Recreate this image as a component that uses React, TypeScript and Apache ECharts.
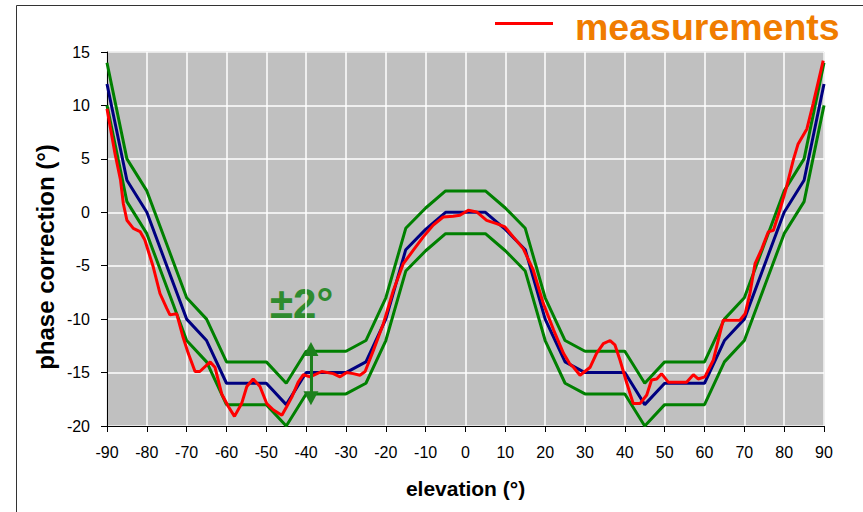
import React, { useEffect, useRef } from "react";
import * as echarts from "echarts";

// Model (blue) curve: elevation (°) and phase correction (°)
const modelElev = [-90, -85, -80, -75, -70, -65, -60, -50, -45, -40, -30, -25, -20, -15, -10, -5, 0, 5, 10, 15, 20, 25, 30, 40, 45, 50, 60, 65, 70, 75, 80, 85, 90];
const modelPhase = [12, 3, 0, -5, -10, -12, -16, -16, -18, -15, -15, -14, -10, -3.5, -1.6, 0, 0, 0, -1.6, -3.5, -10, -14, -15, -15, -18, -16, -16, -12, -10, -5, 0, 3, 12];
// Tolerance band (green)
const upperBound = [14, 5, 2, -3, -8, -10, -14, -14, -16, -13, -13, -12, -8, -1.5, 0.4, 2, 2, 2, 0.4, -1.5, -8, -12, -13, -13, -16, -14, -14, -10, -8, -3, 2, 5, 14];
const lowerBound = [10, 1, -2, -7, -12, -14, -18, -18, -20, -17, -17, -16, -12, -5.5, -3.6, -2, -2, -2, -3.6, -5.5, -12, -16, -17, -17, -20, -18, -18, -14, -12, -7, -2, 1, 10];

// Measurements (red)
const measElev = [-90, -89.2, -88, -86.6, -85.9, -85, -83.4, -81.7, -80.5, -78.4, -76.7, -75, -74.2, -72.5, -70.9, -69.6, -67.9, -66.7, -64.1, -62.9, -61.2, -59.5, -58, -56.2, -54.9, -53.3, -51.6, -49.9, -48.2, -46.1, -44.9, -43.6, -42, -40.7, -39, -36.1, -33.2, -31.5, -29.8, -28.2, -26.5, -25.2, -23.1, -20.6, -18.1, -15.6, -13.1, -10.6, -8.1, -5.6, -3.1, -1.4, 0.7, 2.8, 5.3, 7.8, 9.9, 12, 14.5, 17, 19.5, 22.1, 24.6, 26.2, 27.1, 28.75, 31.3, 32.9, 34.6, 36.3, 37.5, 38.8, 40.5, 42.1, 43.8, 45.5, 46.7, 48, 49.2, 50.9, 53, 55.5, 57.2, 58.4, 60.1, 62.2, 64.7, 68.9, 70.2, 71.4, 72.7, 74.4, 76, 77.3, 78.9, 80.6, 82.3, 83.5, 85.7, 87.3, 89.8];
const measPhase = [9.7, 8.0, 5.5, 3.0, 0.8, -0.75, -1.5, -1.8, -2.6, -5.1, -7.6, -9.0, -9.6, -9.5, -11.7, -13.2, -14.9, -14.9, -14.0, -14.5, -17.0, -18.2, -19.1, -17.9, -16.3, -15.6, -16.3, -17.9, -18.5, -19.0, -18.2, -17.3, -15.9, -15.2, -15.4, -14.9, -15.1, -15.4, -15.0, -15.1, -15.25, -14.9, -12.9, -10.4, -7.3, -4.8, -3.55, -2.3, -1.2, -0.44, -0.37, -0.28, 0.19, 0.03, -0.75, -1.06, -1.37, -2.3, -3.4, -5.4, -8.5, -11.0, -13.2, -14.2, -14.5, -15.25, -14.5, -13.2, -12.3, -12.0, -12.4, -13.85, -16.0, -17.9, -17.9, -17.1, -15.7, -15.6, -15.1, -15.9, -15.9, -15.9, -15.2, -15.6, -15.4, -13.85, -10.1, -10.1, -9.5, -7.6, -4.8, -3.4, -1.84, -1.68, 0.19, 2.37, 4.9, 6.4, 7.8, 10.2, 14.2];

// ±2° arrow annotation (elevation, top, bottom)
const arrowElev = -38.8;
const arrowTop = -12.8;
const arrowBottom = -17.4;

const pair = (xs: number[], ys: number[]) => xs.map((x, i) => [x, ys[i]]);

export default function App() {
  const ref = useRef<HTMLDivElement>(null);
  useEffect(() => {
    const chart = echarts.init(ref.current!, null, { renderer: "svg" });
    const font = "'Liberation Sans', Arial, sans-serif";
    chart.setOption({
      animation: false,
      backgroundColor: "#ffffff",
      textStyle: { fontFamily: font },
      grid: {
        left: 107,
        right: 39,
        top: 52,
        bottom: 86,
        show: true,
        backgroundColor: "#c0c0c0",
        borderColor: "#808080",
        borderWidth: 1,
      },
      xAxis: {
        type: "value",
        min: -90,
        max: 90,
        interval: 10,
        name: "elevation (°)",
        nameLocation: "middle",
        nameGap: 52,
        nameTextStyle: { fontSize: 21, fontWeight: "bold", color: "#000", fontFamily: font },
        axisLine: { show: true, onZero: false, lineStyle: { color: "#000", width: 1 } },
        axisTick: { show: true, length: 6, lineStyle: { color: "#000" } },
        axisLabel: { color: "#000", fontSize: 16, margin: 18, fontFamily: font },
        splitLine: { show: true, lineStyle: { color: "#ffffff", width: 1.5 } },
      },
      yAxis: {
        type: "value",
        min: -20,
        max: 15,
        interval: 5,
        axisLine: { show: true, onZero: false, lineStyle: { color: "#000", width: 1 } },
        axisTick: { show: true, length: 6, lineStyle: { color: "#000" } },
        axisLabel: { color: "#000", fontSize: 16, margin: 17, fontFamily: font },
        splitLine: { show: true, lineStyle: { color: "#ffffff", width: 1.5 } },
      },
      series: [
        {
          name: "upper",
          type: "line",
          data: pair(modelElev, upperBound),
          showSymbol: false,
          silent: true,
          lineStyle: { color: "#008000", width: 3 },
          markLine: {
            silent: true,
            symbol: ["triangle", "triangle"],
            symbolSize: [15, 14],
            label: { show: false },
            lineStyle: { color: "#1c801c", width: 3, type: "solid" },
            data: [[{ coord: [arrowElev, arrowTop] }, { coord: [arrowElev, arrowBottom] }]],
          },
        },
        {
          name: "lower",
          type: "line",
          data: pair(modelElev, lowerBound),
          showSymbol: false,
          silent: true,
          lineStyle: { color: "#008000", width: 3 },
        },
        {
          name: "model",
          type: "line",
          data: pair(modelElev, modelPhase),
          showSymbol: false,
          silent: true,
          lineStyle: { color: "#000080", width: 3 },
        },
        {
          name: "measurements",
          type: "line",
          data: pair(measElev, measPhase),
          showSymbol: false,
          silent: true,
          lineStyle: { color: "#ff0000", width: 3 },
        },
      ],
      graphic: [
        { type: "line", shape: { x1: 16.5, y1: 5.5, x2: 863, y2: 5.5 }, style: { stroke: "#333", lineWidth: 1 }, silent: true },
        { type: "line", shape: { x1: 16.5, y1: 5.5, x2: 16.5, y2: 512 }, style: { stroke: "#333", lineWidth: 1 }, silent: true },
        { type: "line", shape: { x1: 495, y1: 23.5, x2: 553, y2: 23.5 }, style: { stroke: "#ff0000", lineWidth: 3 }, silent: true },
        {
          type: "text",
          x: 575,
          y: 27,
          style: { text: "measurements", fill: "#f07c00", font: `bold 37.5px ${font}`, verticalAlign: "middle", align: "left" },
          silent: true,
        },
        {
          type: "text",
          x: 270,
          y: 303,
          style: { text: "±2°", fill: "#2e8b2e", font: `bold 42px ${font}`, verticalAlign: "middle", align: "left" },
          silent: true,
        },
        {
          type: "text",
          x: 45,
          y: 257,
          rotation: Math.PI / 2,
          style: { text: "phase correction (°)", fill: "#000", font: `bold 24px ${font}`, verticalAlign: "middle", align: "center" },
          silent: true,
        },
      ],
    });
    return () => chart.dispose();
  }, []);
  return <div ref={ref} style={{ position: "absolute", left: 0, top: 0, width: 863, height: 512 }} />;
}
